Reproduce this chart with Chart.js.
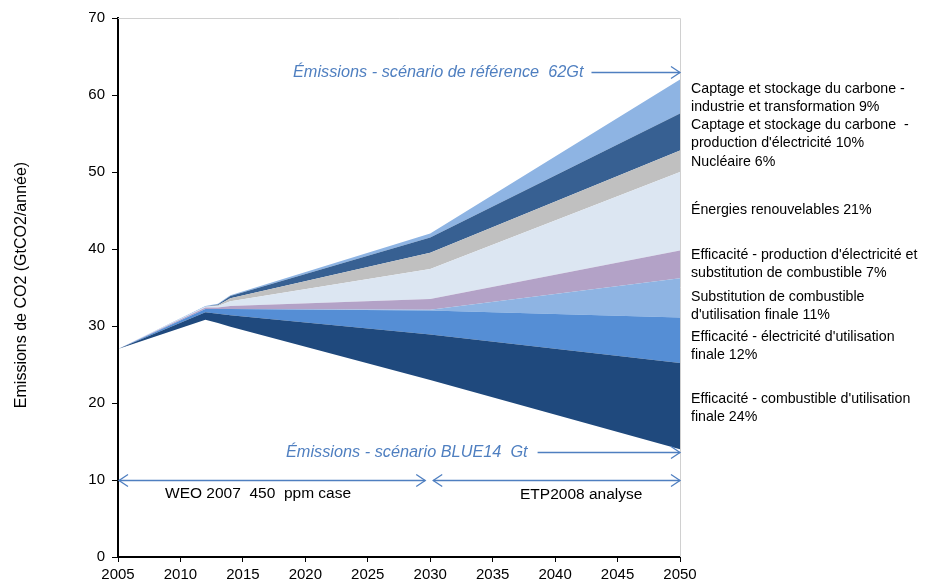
<!DOCTYPE html>
<html lang="fr">
<head>
<meta charset="utf-8">
<script src="https://cdn.jsdelivr.net/npm/chart.js@4.4.1/dist/chart.umd.min.js"></script>
<style>
  html, body { margin: 0; padding: 0; background: #ffffff; }
  #wrap { width: 928px; height: 582px; position: relative; }
</style>
</head>
<body>
<div id="wrap"><canvas id="chart" width="928" height="582"></canvas></div>
<script>
// Years on the horizontal axis
const years = [2005, 2012, 2013, 2014, 2030, 2050];

// Emissions in the BLUE scenario (GtCO2/an) - lower edge of the stack
const blueScenario = [27.0, 30.8, 30.4, 29.9, 23.0, 14.0];

// Reductions by option (GtCO2/an), stacked from bottom to top
const effCombustibleFinal   = [0, 1.0, 1.2, 1.5, 5.9, 11.2];
const effElectriciteFinal   = [0, 0.4, 0.6, 0.8, 3.1, 5.9];
const substCombustibleFinal = [0, 0.0, 0.0, 0.0, 0.1, 5.1];
const effProdElecSubst      = [0, 0.2, 0.2, 0.4, 1.4, 3.6];
const renouvelables         = [0, 0.1, 0.2, 0.6, 3.9, 10.2];
const nucleaire             = [0, 0.0, 0.1, 0.4, 2.1, 2.8];
const cscElectricite        = [0, 0.0, 0.1, 0.3, 2.0, 4.8];
const cscIndustrie          = [0, 0.1, 0.1, 0.1, 0.5, 4.4];

// Axis ticks
const xTicks = [2005, 2010, 2015, 2020, 2025, 2030, 2035, 2040, 2045, 2050];
const yTicks = [0, 10, 20, 30, 40, 50, 60, 70];

// Annotations
const refScenarioText = 'Émissions - scénario de référence  62Gt';
const refScenarioValue = 63;
const blueScenarioText = 'Émissions - scénario BLUE14  Gt';
const blueScenarioValue = 13.6;
const periodValue = 10;
const periodSplit = 2030;
const periodLeftText = 'WEO 2007  450  ppm case';
const periodRightText = 'ETP2008 analyse';

// Right-hand descriptions (one entry per text block)
const bandLabels = [
  ['Captage et stockage du carbone -', 'industrie et transformation 9%'],
  ['Captage et stockage du carbone  -', "production d'électricité 10%"],
  ['Nucléaire 6%'],
  ['Énergies renouvelables 21%'],
  ["Efficacité - production d'électricité et", 'substitution de combustible 7%'],
  ['Substitution de combustible', "d'utilisation finale 11%"],
  ["Efficacité - électricité d'utilisation", 'finale 12%'],
  ["Efficacité - combustible d'utilisation", 'finale 24%']
];
const bandLabelTops = [89, 125.5, 162, 210.5, 255.5, 297.5, 337, 399];

const toPoints = arr => arr.map((v, i) => ({ x: years[i], y: v }));

function band(data, color) {
  return {
    data: toPoints(data),
    backgroundColor: color,
    borderWidth: 0,
    borderColor: color,
    pointRadius: 0,
    fill: '-1',
    tension: 0
  };
}

const FONT = '"Liberation Sans", Arial, Helvetica, sans-serif';
const ARROW = '#4f7fc0';

function chevron(ctx, x, y, dir) {
  ctx.beginPath();
  ctx.moveTo(x - dir * 9, y - 6);
  ctx.lineTo(x, y);
  ctx.lineTo(x - dir * 9, y + 6);
  ctx.stroke();
}

const decorations = {
  id: 'decorations',
  afterDatasetsDraw(chart) {
    const { ctx, chartArea: a, scales: { x, y } } = chart;
    ctx.save();

    // thin frame on top and right of the plot
    ctx.strokeStyle = '#d0d0d0';
    ctx.lineWidth = 1;
    ctx.beginPath();
    ctx.moveTo(a.left, a.top + 0.5);
    ctx.lineTo(a.right + 0.5, a.top + 0.5);
    ctx.lineTo(a.right + 0.5, a.bottom);
    ctx.stroke();

    ctx.strokeStyle = ARROW;
    ctx.fillStyle = ARROW;
    ctx.lineWidth = 1.3;

    // reference scenario arrow
    ctx.font = 'italic 16.3px ' + FONT;
    ctx.textBaseline = 'middle';
    ctx.textAlign = 'left';
    const yr = Math.round(y.getPixelForValue(refScenarioValue)) + 0.5;
    const tx1 = 293;
    ctx.fillText(refScenarioText, tx1, yr);
    const w1 = ctx.measureText(refScenarioText).width;
    ctx.beginPath();
    ctx.moveTo(tx1 + w1 + 8, yr);
    ctx.lineTo(a.right, yr);
    ctx.stroke();
    chevron(ctx, a.right, yr, 1);

    // BLUE scenario arrow
    const yb = Math.round(y.getPixelForValue(blueScenarioValue)) + 0.5;
    const tx2 = 286;
    ctx.fillText(blueScenarioText, tx2, yb);
    const w2 = ctx.measureText(blueScenarioText).width;
    ctx.beginPath();
    ctx.moveTo(tx2 + w2 + 10, yb);
    ctx.lineTo(a.right, yb);
    ctx.stroke();
    chevron(ctx, a.right, yb, 1);

    // period arrows
    const yp = Math.round(y.getPixelForValue(periodValue)) + 0.5;
    const xs = x.getPixelForValue(periodSplit);
    const segs = [[a.left + 1, xs - 5], [xs + 3, a.right]];
    segs.forEach(([l, r]) => {
      ctx.beginPath();
      ctx.moveTo(l, yp);
      ctx.lineTo(r, yp);
      ctx.stroke();
      chevron(ctx, l, yp, -1);
      chevron(ctx, r, yp, 1);
    });

    // period captions
    ctx.fillStyle = '#000';
    ctx.font = '15.5px ' + FONT;
    ctx.fillText(periodLeftText, 165, yp + 13);
    ctx.fillText(periodRightText, 520, yp + 14);

    // axis title
    ctx.save();
    ctx.translate(22, 285);
    ctx.rotate(-Math.PI / 2);
    ctx.textAlign = 'center';
    ctx.font = '16px ' + FONT;
    ctx.fillText('Emissions de CO2 (GtCO2/année)', 0, 0);
    ctx.restore();

    // band descriptions
    ctx.font = '14.2px ' + FONT;
    ctx.textAlign = 'left';
    bandLabels.forEach((lines, i) => {
      lines.forEach((t, j) => {
        ctx.fillText(t, 691, bandLabelTops[i] + j * 17.8);
      });
    });

    ctx.restore();
  }
};

new Chart(document.getElementById('chart'), {
  type: 'line',
  data: {
    datasets: [
      { data: toPoints(blueScenario), borderWidth: 0, pointRadius: 0, fill: false, borderColor: 'rgba(0,0,0,0)' },
      band(effCombustibleFinal,   '#1f497d'),
      band(effElectriciteFinal,   '#558ed5'),
      band(substCombustibleFinal, '#8eb4e3'),
      band(effProdElecSubst,      '#b3a2c7'),
      band(renouvelables,         '#dce6f2'),
      band(nucleaire,             '#c0c0c0'),
      band(cscElectricite,        '#376092'),
      band(cscIndustrie,          '#8eb4e3')
    ]
  },
  options: {
    responsive: false,
    animation: false,
    layout: { padding: { left: 0, right: 248, top: 18, bottom: 0 } },
    plugins: { legend: { display: false }, tooltip: { enabled: false } },
    elements: { line: { tension: 0 } },
    scales: {
      x: {
        type: 'linear',
        min: 2005,
        max: 2050,
        afterFit: s => { s.height = 25; },
        afterBuildTicks: s => { s.ticks = xTicks.map(v => ({ value: v })); },
        ticks: { color: '#000', font: { family: FONT, size: 15 }, padding: 4, maxRotation: 0, callback: v => String(v) },
        grid: { display: true, drawOnChartArea: false, drawTicks: true, tickLength: 5, color: '#000', lineWidth: 1 },
        border: { display: true, color: '#000', width: 2 }
      },
      y: {
        stacked: true,
        min: 0,
        max: 70,
        afterFit: s => { s.width = 118; },
        afterBuildTicks: s => { s.ticks = yTicks.map(v => ({ value: v })); },
        ticks: { color: '#000', font: { family: FONT, size: 15 }, padding: 7 },
        grid: { display: true, drawOnChartArea: false, drawTicks: true, tickLength: 6, color: '#000', lineWidth: 1 },
        border: { display: true, color: '#000', width: 2 }
      }
    }
  },
  plugins: [decorations]
});
</script>
</body>
</html>
